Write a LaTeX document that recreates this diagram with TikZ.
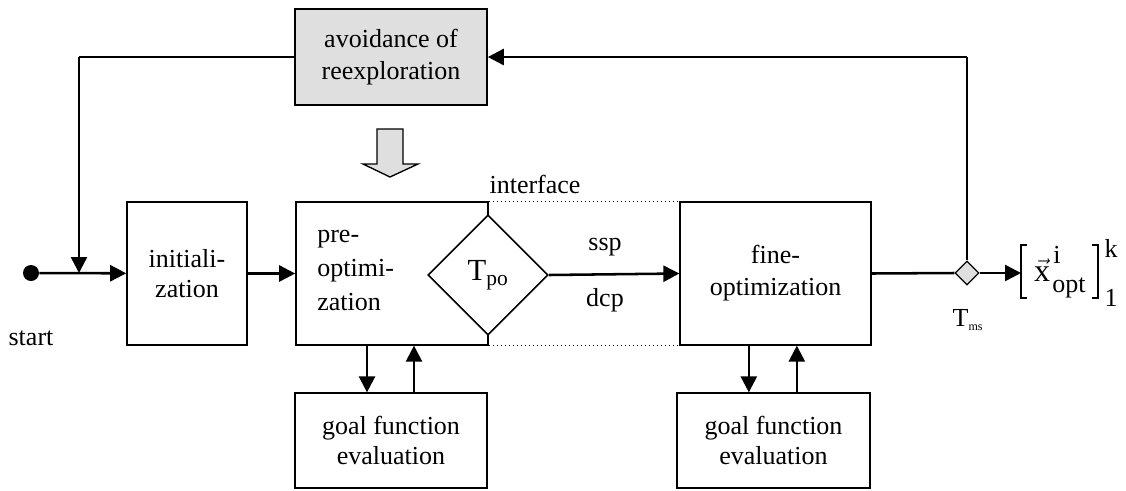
\documentclass[tikz,border=0pt]{standalone}
\usepackage{fontspec}
\setmainfont{Liberation Serif}
\usetikzlibrary{arrows.meta,shapes.geometric,calc}
\newcommand{\figfont}{\fontsize{19.5}{22}\selectfont}
\tikzset{
	block/.style={draw, line width=1.2pt, fill=white, align=center, inner sep=0pt},
	flow/.style={line width=1.9pt, -{Triangle[length=12pt,width=12pt]}},
	link/.style={line width=1.2pt},
	every node/.style={font=\figfont}
}

\begin{document}
\begin{tikzpicture}[x=0.75pt,y=-0.75pt]
	\useasboundingbox (0,0) rectangle (1126,490);

	\node[block, fill=gray!25, minimum width=144pt, minimum height=72pt, font=\fontsize{19.5}{23.5}\selectfont] (avoid) at (391,57) {avoidance of\\reexploration};
	\node[block, minimum width=90pt, minimum height=107pt] (init) at (187,273.5) {initiali-\\zation};
	\node[block, minimum width=144pt, minimum height=107pt, text width=112pt, inner xsep=16pt, align=left, font=\fontsize{19.5}{25.5}\selectfont] (preopt) at (392,273.5) {pre-\\optimi-\\zation\vphantom{p}};
	\node[block, diamond, minimum width=90pt, minimum height=90pt, font=\fontsize{23}{26}\selectfont] (tpo) at (488,275) {T\textsubscript{po}};
	\node[block, minimum width=143pt, minimum height=107pt, font=\fontsize{19.5}{24}\selectfont] (fine) at (775.5,273.5) {fine-\\optimization};
	\node[block, minimum width=144pt, minimum height=71pt, font=\fontsize{19.5}{23}\selectfont] (goal1) at (391,440.5) {goal function\\evaluation};
	\node[block, minimum width=145pt, minimum height=71pt, font=\fontsize{19.5}{23}\selectfont] (goal2) at (773.5,440.5) {goal function\\evaluation};
	\node[draw, diamond, fill=gray!25, line width=1pt, minimum size=18pt, inner sep=0pt] (ms) at (967,273) {};
	\node[circle, fill, minimum size=12pt, inner sep=0pt] (start) at (31,273) {};

	\node (startlbl) at (31,338) {start};
	\node (tmslbl) at (968,320) {T\textsubscript{\small ms}};
	\node (iface) at (535,184) {interface};
	\node (ssp) at (605,247) {ssp};
	\node (dcp) at (605,300) {dcp};

	% result vector
	\node (xvec) at (1042,270) {$\vec{\mbox{\fontsize{24}{26}\selectfont x}}$};
	\node (xsup) at (1057,255) {i};
	\node (xsub) at (1069,288) {opt};
	\node (kup) at (1111,248) {k};
	\node (klow) at (1111,298) {1};
	\coordinate (lbr) at (1021,273);
	\draw[line width=0.9pt] (1027,245) -- (1021,245) -- (1021,298) -- (1027,298);
	\draw[line width=0.9pt] (1092,245) -- (1098,245) -- (1098,298) -- (1092,298);

	% corners of the feedback loop
	\coordinate (fbl) at (79,57);
	\coordinate (fbr) at (967,57);
	\coordinate (join) at (79,273);

	\draw[flow] (start) -- (init);
	\draw[link] (avoid.west) -- (fbl);
	\draw[flow] (fbl) -- (join);
	\draw[flow] (init) -- (preopt);
	\draw[flow] (tpo.east) -- (fine.west);
	\draw[line width=1.9pt] (fine.east) -- (ms.west);
	\draw[flow] (ms.east) -- (lbr);
	\draw[link] (ms.north) -- (fbr);
	\draw[flow] (fbr) -- (avoid.east);

	\draw[dotted, line width=1pt] (preopt.north east) -- (fine.north west);
	\draw[dotted, line width=1pt] (preopt.south east) -- (fine.south west);

	\draw[flow] ([xshift=-18.75pt]preopt.south) -- ([xshift=-18.75pt]preopt.south |- goal1.north);
	\draw[flow] ([xshift=16.5pt]preopt.south |- goal1.north) -- ([xshift=16.5pt]preopt.south);
	\draw[flow] ([xshift=-20pt]fine.south) -- ([xshift=-20pt]fine.south |- goal2.north);
	\draw[flow] ([xshift=16pt]fine.south |- goal2.north) -- ([xshift=16pt]fine.south);

	% hollow arrow below avoidance box
	\draw[link, line width=1pt, fill=gray!25] (377,129) -- (403,129) -- (403,164) -- (418,164) -- (390,177) -- (363,164) -- (377,164) -- cycle;
\end{tikzpicture}
\end{document}
